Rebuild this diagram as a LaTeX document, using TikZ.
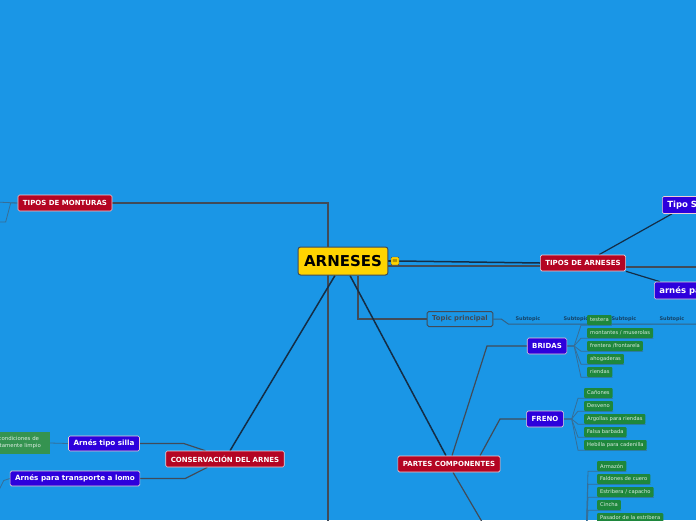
\documentclass[tikz,border=0pt]{standalone}
\usepackage{fontspec}
\setmainfont{DejaVu Sans}
\usetikzlibrary{positioning,calc}
\definecolor{bgblue}{RGB}{26,150,230}
\definecolor{topicred}{RGB}{180,5,35}
\definecolor{topicblue}{RGB}{45,0,220}
\definecolor{leafgreen}{RGB}{30,135,60}
\definecolor{rootyellow}{RGB}{255,212,0}
\definecolor{linedark}{RGB}{20,45,70}
\definecolor{linegray}{RGB}{65,75,88}
\definecolor{linethin}{RGB}{55,110,150}
\pgfdeclarelayer{edges}
\pgfsetlayers{edges,main}
\tikzset{
  rootnode/.style={draw=linegray, fill=rootyellow, rounded corners=2.5pt, line width=1pt,
    font=\fontsize{15}{18}\bfseries, inner xsep=6pt, minimum height=28pt},
  redtopic/.style={draw=white!80!topicred, fill=topicred, text=white, rounded corners=1.5pt,
    line width=0.6pt, font=\fontsize{7}{8}\bfseries, minimum height=16pt, inner xsep=5pt, inner ysep=0pt},
  bluetopic/.style={redtopic, fill=topicblue, font=\fontsize{7}{8}\bfseries},
  bigblue/.style={bluetopic, font=\fontsize{8.5}{10}\bfseries, minimum height=17pt, anchor=west},
  leaf/.style={fill=leafgreen, text=white!85!leafgreen, rounded corners=1pt,
    font=\fontsize{5.2}{6}\selectfont, minimum height=10pt, inner xsep=3pt, inner ysep=0pt, anchor=west},
  subtopic/.style={font=\fontsize{5}{6}\bfseries, text=linedark!80!bgblue, inner sep=1pt},
  darkline/.style={draw=linedark, line width=1.5pt},
  grayline/.style={draw=linegray, line width=1.2pt},
  thinline/.style={draw=linethin, line width=0.8pt}
}
\begin{document}
\begin{tikzpicture}[x=1pt,y=-1pt]
  \useasboundingbox (0,0) rectangle (696,520);

  % central topic and main branches
  \node[rootnode] (root) at (343,261) {ARNESES};
  \node[fill=rootyellow, draw=linegray, line width=0.4pt, rounded corners=1pt,
        minimum size=8pt, inner sep=0pt, font=\fontsize{6}{6}\selectfont] (note) at (395,261) {$\equiv$};
  \node[redtopic] (montu) at (65,203) {TIPOS DE MONTURAS};
  \node[redtopic] (tarn) at (583,263) {TIPOS DE ARNESES};
  \node[redtopic] (partes) at (449,464) {PARTES COMPONENTES};
  \node[redtopic] (conserv) at (225,459) {CONSERVACIÓN DEL ARNES};
  \node[draw=linegray, line width=1pt, rounded corners=1.5pt, text=linegray,
        font=\fontsize{6.8}{8}\bfseries, minimum height=15pt, inner xsep=5pt, inner ysep=0pt] (toppr) at (460,319) {Topic principal};

  % tipos de arneses
  \node[bigblue] (tsilla) at (662,205) {Tipo S};
  \node[bigblue] (arnpa) at (654,290.5) {arnés pa};

  % subtopics
  \node[subtopic] (sub1) at (528,319) {Subtopic};
  \node[subtopic] (sub2) at (576,319) {Subtopic};
  \node[subtopic] (sub3) at (624,319) {Subtopic};
  \node[subtopic] (sub4) at (672,319) {Subtopic};
  \coordinate (subend) at (700,324);

  % partes componentes
  \node[bluetopic] (bridas) at (547,346) {BRIDAS};
  \node[bluetopic] (freno) at (545,419) {FRENO};

  % conservacion
  \node[bluetopic, font=\fontsize{7.2}{8}\bfseries, minimum height=15pt] (silla) at (104,443.5) {Arnés tipo silla};
  \node[bluetopic, font=\fontsize{7.2}{8}\bfseries, minimum height=15pt] (lomo) at (75,478.5) {Arnés para transporte a lomo};
  \node[fill=leafgreen!90!white, text=white!85!leafgreen, anchor=east, align=center, minimum height=22pt,
        minimum width=62pt, inner sep=1pt, font=\fontsize{5.4}{7}\selectfont] (limpio) at (50,443) {condiciones de\\ctamente limpio};

  % off-page ends
  \coordinate (offbelow) at (328,530);
  \coordinate (offright) at (700,267);
  \coordinate (partesoff) at (488,532);
  \coordinate (sillaroot) at (586,540);
  \coordinate (montul1) at (-5,202);
  \coordinate (montul2) at (-5,222);
  \coordinate (lomoc) at (-4,496);

  \begin{pgfonlayer}{edges}
    \fill[bgblue] (0,0) rectangle (696,520);
    \draw[grayline] (montu.east) -| (offbelow);
    \draw[grayline] ([yshift=-5pt]root.east) -- ([yshift=-3pt]tarn.west);
    \draw[grayline] ([yshift=-4pt]tarn.east) -- (offright);
    \draw[darkline] (root.east) -- (note.west);
    \draw[darkline] (note.east) -- (tarn.west);
    \draw[grayline] ([xshift=15pt]root.south) |- (toppr.west);
    \draw[darkline] ([xshift=7pt]root.south) -- ([xshift=-3pt]partes.north);
    \draw[darkline] ([xshift=-8pt]root.south) -- ([xshift=5pt]conserv.north);
    \draw[darkline, line width=1.2pt] ([xshift=16pt]tarn.north) -- ([xshift=10pt]tsilla.south west);
    \draw[darkline, line width=1.2pt] (tarn.south east) -- ([xshift=6pt]arnpa.north west);
    \draw[thinline, draw=linegray!70!bgblue, line width=1pt] (toppr.east) -- ++(8,0) -- ++(7,5) -- (subend);
    \draw[grayline] ([xshift=3pt]partes.north) -- (487,346) -- (bridas.west);
    \draw[grayline] ([xshift=31pt]partes.north) -- (500,419) -- (freno.west);
    \draw[grayline] ([xshift=4pt]partes.south) -- (partesoff);
    \draw[grayline] (silla.east) -- ++(44,0) -- ([xshift=40pt]conserv.north west);
    \draw[grayline] (lomo.east) -- ++(45,0) -- ([xshift=42pt]conserv.south west);
    \draw[thinline] (limpio.east) -- (silla.west);
    \draw[thinline] (montu.west) -- (montul1);
    \draw[thinline] (montu.west) -- ++(-7,0) -- ++(-5,19) -- (montul2);
    \draw[thinline] (lomo.west) -- ++(-6,2) -- (lomoc);
  \end{pgfonlayer}

  % leaves of bridas
  \foreach \t [count=\i] in {testera,montantes / muserolas,frentera /frontarela,ahogaderas,riendas}{
    \node[leaf] (bri\i) at (587,{307+13*\i}) {\t};
    \begin{pgfonlayer}{edges}
      \draw[thinline] (bridas.east) -- ++(7,0) -- ([xshift=-6pt]bri\i.south west) -- (bri\i.south east);
    \end{pgfonlayer}
  }
  % leaves of freno
  \foreach \t [count=\i] in {Cañones,Desveno,Argollas para riendas,Falsa barbada,Hebilla para cadenilla}{
    \node[leaf] (fre\i) at (584,{380+13*\i}) {\t};
    \begin{pgfonlayer}{edges}
      \draw[thinline] (freno.east) -- ++(8,0) -- ([xshift=-6pt]fre\i.south west) -- (fre\i.south east);
    \end{pgfonlayer}
  }
  % leaves of the saddle harness
  \foreach \t [count=\i] in {Armazón,Faldones de cuero,Estribera / capacho,Cincha,Pasador de la estribera}{
    \node[leaf] (arm\i) at (597,{453+13*\i}) {\t};
    \begin{pgfonlayer}{edges}
      \draw[thinline] (sillaroot) -- ([xshift=-9pt]arm\i.south west) -- (arm\i.south east);
    \end{pgfonlayer}
  }
\end{tikzpicture}
\end{document}
